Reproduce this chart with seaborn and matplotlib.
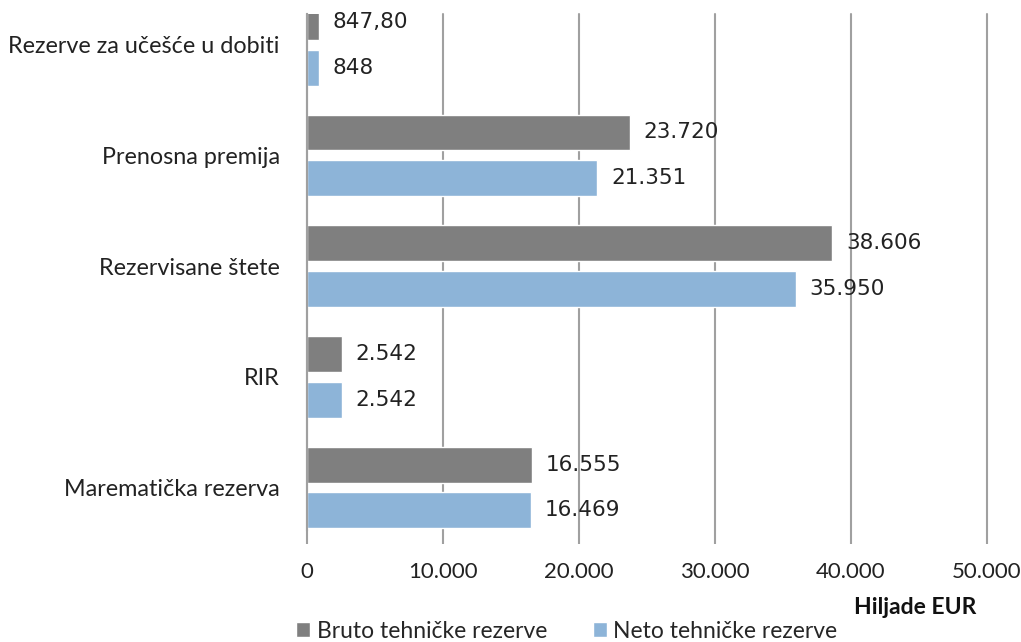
import matplotlib
matplotlib.use('Agg')
import pandas as pd
import matplotlib.pyplot as plt
import seaborn as sns

# Data
categories = ['Rezerve za učešće u dobiti', 'Prenosna premija', 'Rezervisane štete',
              'RIR', 'Marematička rezerva']
series = ['Bruto tehničke rezerve', 'Neto tehničke rezerve']
bruto = [847.80, 23720, 38606, 2542, 16555]
neto = [848, 21351, 35950, 2542, 16469]
bruto_labels = ['847,80', '23.720', '38.606', '2.542', '16.555']
neto_labels = ['848', '21.351', '35.950', '2.542', '16.469']
x_ticks = [0, 10000, 20000, 30000, 40000, 50000]
x_tick_labels = ['0', '10.000', '20.000', '30.000', '40.000', '50.000']
colors = ['#7F7F7F', '#8DB4D8']

df = pd.DataFrame({
    'kategorija': categories * 2,
    'serija': [series[0]] * len(categories) + [series[1]] * len(categories),
    'vrijednost': bruto + neto,
})

sns.set_style('white')
plt.rcParams['font.family'] = ['Lato', 'DejaVu Sans']

W, H = 1021, 642
fig = plt.figure(figsize=(W / 100, H / 100), dpi=100)
ax = fig.add_axes([307 / W, 1 - 530 / H, (987 - 307) / W, (530 - 14) / H])

sns.barplot(data=df, y='kategorija', x='vrijednost', hue='serija',
            order=categories, hue_order=series, palette=colors, orient='h',
            width=0.83, gap=0.217, saturation=1, ax=ax)

# value labels
for cont, labs in zip(ax.containers, [bruto_labels, neto_labels]):
    ax.bar_label(cont, labels=labs, padding=10, fontsize=15.5,
                 family='DejaVu Sans', color='#222222')

ax.set_xlim(0, 50000)
ax.set_ylim(4.384, -0.278)
ax.set_xticks(x_ticks)
ax.set_xticklabels(x_tick_labels)
ax.set_xlabel('')
ax.set_ylabel('')
ax.xaxis.grid(True, color='#A0A0A0', linewidth=1.5)
for gl in ax.get_xgridlines():
    gl.set_clip_on(False)
ax.set_axisbelow(True)
for s in ['top', 'right', 'bottom']:
    ax.spines[s].set_visible(False)
ax.spines['left'].set_color('#A0A0A0')
ax.spines['left'].set_linewidth(1.5)
ax.tick_params(axis='x', bottom=True, length=10, width=1.5, color='#A0A0A0',
               labelsize=16, pad=13, labelcolor='#222222')
ax.tick_params(axis='y', left=False, labelsize=16.8, pad=16, labelcolor='#222222')

fig.text(976 / W, 1 - 607 / H, 'Hiljade EUR', ha='right', va='center',
         fontsize=16.5, fontweight='bold', color='#111111')

sns.move_legend(ax, 'center left', bbox_to_anchor=(296 / W, 1 - 631 / H),
                bbox_transform=fig.transFigure, ncol=2, frameon=False, title=None,
                fontsize=16.5, handlelength=0.6, handleheight=0.6, handletextpad=0.3,
                columnspacing=2.0, borderpad=0, borderaxespad=0)

fig.savefig('out.png', dpi=100)
